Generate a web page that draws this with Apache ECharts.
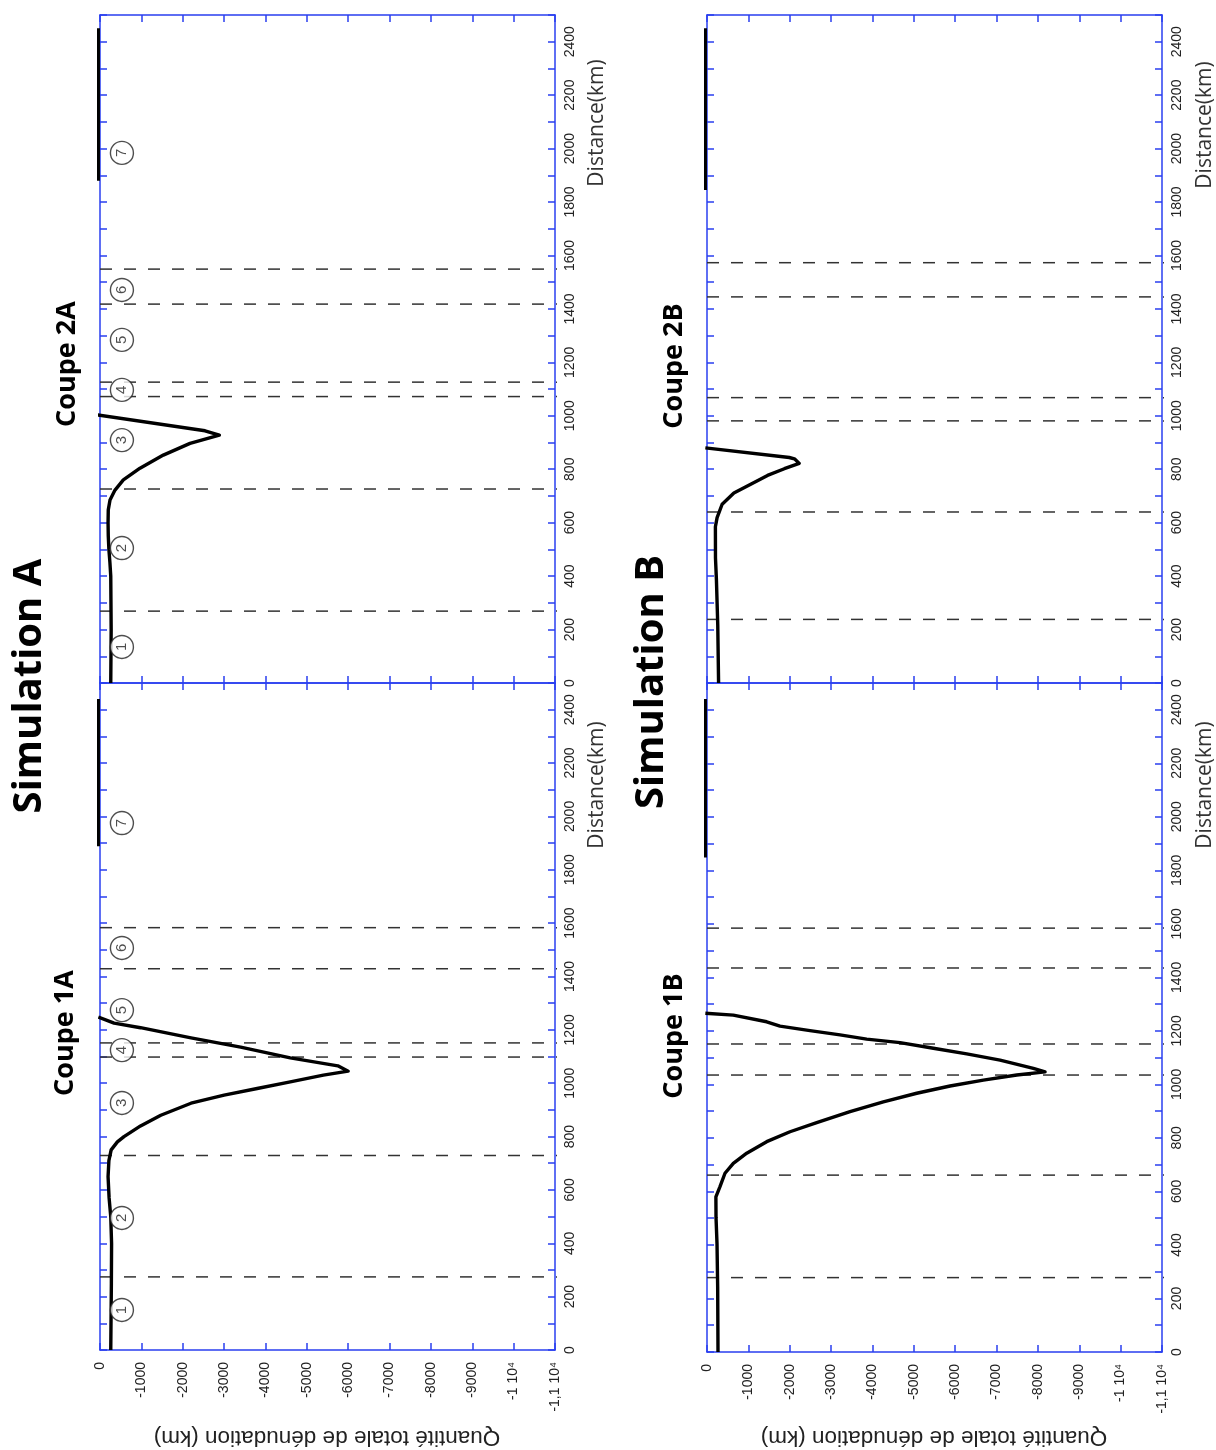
<!DOCTYPE html>
<html><head><meta charset="utf-8">
<script src="https://cdn.jsdelivr.net/npm/echarts/dist/echarts.min.js"></script>
<style>html,body{margin:0;padding:0;background:#fff}#c{width:1216px;height:1450px}</style>
</head><body><div id="c"></div><script>
// ---------- DATA ----------
const panelNames = ['Coupe 2A', 'Coupe 1A', 'Coupe 2B', 'Coupe 1B'];
const simNames = ['Simulation A', 'Simulation B'];
const distAxisName = 'Distance(km)';
const denudAxisName = 'Quantité totale de dénudation (km)';

// curves: distance (km) and total denudation (km)
const curveA2Dist = [0, 200, 400, 450, 500, 550, 600, 648, 685, 722, 760, 804, 853, 897, 928, 944, 1003];
const curveA2Val  = [-260, -270, -260, -240, -215, -200, -195, -200, -242, -363, -564, -967, -1531, -2176, -2885, -2539, 60];
const curveA1Dist = [0, 250, 400, 500, 570, 650, 710, 750, 780, 800, 840, 880, 925, 955, 980, 1005, 1030, 1045, 1065, 1095, 1135, 1170, 1208, 1225, 1248];
const curveA1Val  = [-260, -275, -280, -260, -220, -195, -215, -270, -420, -580, -980, -1470, -2200, -3000, -3800, -4600, -5400, -6000, -5750, -4600, -3400, -2200, -980, -340, 40];
const curveB2Dist = [0, 217, 301, 385, 468, 585, 619, 669, 711, 744, 777, 802, 822, 839, 844, 880];
const curveB2Val  = [-280, -260, -244, -228, -205, -203, -244, -366, -650, -1057, -1463, -1870, -2230, -2114, -1990, 40];
const curveB1Dist = [0, 243, 405, 503, 580, 618, 668, 705, 743, 786, 823, 857, 898, 935, 967, 994, 1016, 1035, 1047, 1060, 1091, 1114, 1135, 1156, 1169, 1185, 1201, 1218, 1234, 1259, 1266];
const curveB1Val  = [-266, -258, -242, -218, -215, -314, -435, -636, -960, -1443, -2007, -2652, -3458, -4263, -5070, -5876, -6681, -7489, -8173, -7891, -7085, -6280, -5472, -4667, -3861, -3216, -2490, -1765, -1443, -636, 40];

// zone 7 segments (distance extent, value)
const zone7A2 = [1880, 2450];
const zone7A1 = [1888, 2440];
const zone7B2 = [1845, 2450];
const zone7B1 = [1848, 2440];
const zone7Val = 55;

// dashed zone boundaries (km)
const dashA2 = [269, 726, 1072, 1126, 1418, 1549];
const dashA1 = [274, 729, 1098, 1151, 1429, 1583];
const dashB2 = [238, 640, 981, 1068, 1445, 1573];
const dashB1 = [278, 661, 1035, 1151, 1435, 1584];
const dashSpan = [0, -11170];

// circled zone numbers (simulation A)
const zoneLabels = ['1', '2', '3', '4', '5', '6', '7'];
const zoneA2Dist = [135, 505, 909, 1097, 1284, 1471, 1984];
const zoneA1Dist = [150, 495, 926, 1124, 1274, 1507, 1975];
const zoneVal = -530;

// axes
const denudMin = -11000, denudMax = 0, denudStep = 1000;
const distMin = 0, distMax = 2500, distStep = 100, distLabelStep = 200;

// ---------- LAYOUT ----------
const BLUE = '#2a3ff0';
const grids = [
  {left: 100, top: 15, width: 455, height: 668},
  {left: 100, top: 683, width: 455, height: 667},
  {left: 707, top: 15, width: 455, height: 668},
  {left: 707, top: 683, width: 455, height: 669}
];
const hasXLabels = [false, true, false, true];

function denudLabel(v) {
  if (v === 0) return '0';
  if (v === -10000) return '-1 10\u2074';
  if (v === -11000) return '-1,1 10\u2074';
  return String(v);
}

const xAxes = [], yAxes = [];
grids.forEach((g, i) => {
  const common = {
    gridIndex: i, type: 'value', min: denudMin, max: denudMax, interval: denudStep, inverse: true, z: 1,
    axisLine: {show: true, onZero: false, lineStyle: {color: BLUE, width: 1.5}},
    axisTick: {show: true, inside: true, length: 7, lineStyle: {color: BLUE, width: 1.5}},
    splitLine: {show: false}
  };
  xAxes.push(Object.assign({}, common, {
    position: 'bottom',
    axisLabel: {show: hasXLabels[i], rotate: 90, margin: 12, fontSize: 14, color: '#222',
      fontFamily: 'Liberation Sans, Arial, sans-serif', formatter: denudLabel}
  }));
  xAxes.push(Object.assign({}, common, {position: 'top', axisLabel: {show: false}}));
  const ycommon = {
    gridIndex: i, type: 'value', min: distMin, max: distMax, interval: distStep, z: 1,
    axisLine: {show: true, onZero: false, lineStyle: {color: BLUE, width: 1.5}},
    axisTick: {show: true, inside: true, length: 7, lineStyle: {color: BLUE, width: 1.5}},
    splitLine: {show: false}
  };
  yAxes.push(Object.assign({}, ycommon, {
    position: 'right',
    axisLabel: {show: true, rotate: 90, margin: 8, fontSize: 14, color: '#222',
      fontFamily: 'Liberation Sans, Arial, sans-serif',
      formatter: v => (v % distLabelStep === 0 ? String(v) : '')}
  }));
  yAxes.push(Object.assign({}, ycommon, {position: 'left', axisLabel: {show: false}}));
});

const curves = [[curveA2Dist, curveA2Val], [curveA1Dist, curveA1Val], [curveB2Dist, curveB2Val], [curveB1Dist, curveB1Val]];
const zones7 = [zone7A2, zone7A1, zone7B2, zone7B1];
const dashes = [dashA2, dashA1, dashB2, dashB1];
const zoneDists = [zoneA2Dist, zoneA1Dist, null, null];

const series = [];
curves.forEach((c, i) => {
  dashes[i].forEach(d => {
    series.push({type: 'line', xAxisIndex: 2 * i, yAxisIndex: 2 * i, clip: false, symbol: 'none', silent: true,
      data: [[dashSpan[0], d], [dashSpan[1], d]],
      lineStyle: {color: '#333', width: 1.5, type: [12, 12]}, z: 2});
  });
  series.push({type: 'line', xAxisIndex: 2 * i, yAxisIndex: 2 * i, clip: false, symbol: 'none',
    data: c[0].map((d, k) => [c[1][k], d]),
    lineStyle: {color: '#000', width: 3.4, join: 'round'}, z: 5});
  series.push({type: 'line', xAxisIndex: 2 * i, yAxisIndex: 2 * i, clip: false, symbol: 'none',
    data: [[zone7Val, zones7[i][0]], [zone7Val, zones7[i][1]]],
    lineStyle: {color: '#000', width: 4.5, cap: 'butt'}, z: 8});
  if (zoneDists[i]) {
    series.push({type: 'scatter', xAxisIndex: 2 * i, yAxisIndex: 2 * i, symbol: 'circle', symbolSize: 23,
      data: zoneDists[i].map((d, k) => ({value: [zoneVal, d], name: zoneLabels[k]})),
      itemStyle: {color: '#fff', borderColor: '#222', borderWidth: 1.4}, z: 6,
      label: {show: true, position: 'inside', rotate: 90, formatter: p => p.name, fontSize: 15, color: '#222',
        fontFamily: 'Liberation Sans, Arial, sans-serif'}});
  }
});

// ---------- TEXT ----------
function vtext(text, x, y, size, weight, family, color, rot) {
  return {type: 'text', x: x, y: y, rotation: rot, silent: true,
    style: {text: text, align: 'center', verticalAlign: 'middle', fill: color,
      font: weight + ' ' + size + 'px ' + family}};
}
const titleFont = '"Open Sans", "Noto Sans", sans-serif';
const graphics = [
  vtext(simNames[0], 30, 686, 40, 'bold', titleFont, '#000', Math.PI / 2),
  vtext(simNames[1], 652, 682, 40, 'bold', titleFont, '#000', Math.PI / 2),
  vtext(panelNames[0], 67, 364, 27, 'bold', titleFont, '#000', Math.PI / 2),
  vtext(panelNames[1], 65, 1033, 27, 'bold', titleFont, '#000', Math.PI / 2),
  vtext(panelNames[2], 674, 366, 27, 'bold', titleFont, '#000', Math.PI / 2),
  vtext(panelNames[3], 674, 1036, 27, 'bold', titleFont, '#000', Math.PI / 2),
  vtext(distAxisName, 597, 123, 21, 'normal', titleFont, '#333', Math.PI / 2),
  vtext(distAxisName, 597, 785, 21, 'normal', titleFont, '#333', Math.PI / 2),
  vtext(distAxisName, 1205, 125, 21, 'normal', titleFont, '#333', Math.PI / 2),
  vtext(distAxisName, 1205, 785, 21, 'normal', titleFont, '#333', Math.PI / 2),
  vtext(denudAxisName, 327, 1437, 22.5, 'normal', 'Liberation Sans, Arial, sans-serif', '#222', Math.PI),
  vtext(denudAxisName, 934, 1437, 22.5, 'normal', 'Liberation Sans, Arial, sans-serif', '#222', Math.PI)
];

const chart = echarts.init(document.getElementById('c'), null, {renderer: 'canvas'});
chart.setOption({
  animation: false,
  backgroundColor: '#fff',
  grid: grids.map(g => Object.assign({containLabel: false}, g)),
  xAxis: xAxes,
  yAxis: yAxes,
  series: series,
  graphic: graphics
});
</script></body></html>
